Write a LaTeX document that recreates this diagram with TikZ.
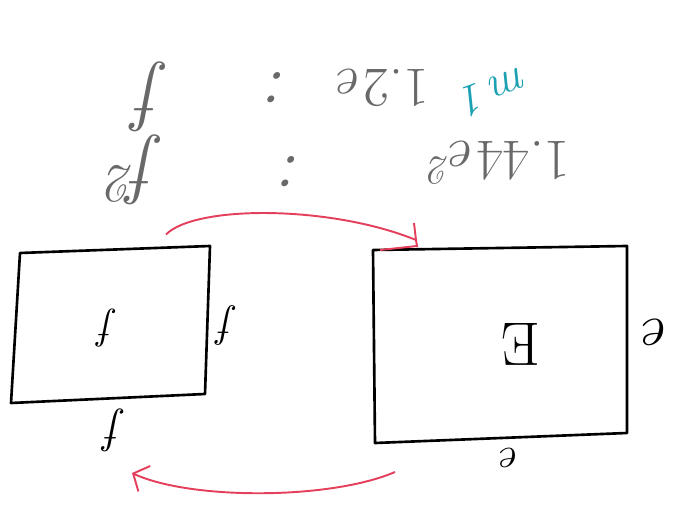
\documentclass[tikz,border=0pt]{standalone}
\usetikzlibrary{arrows.meta,calc}

\definecolor{pencil}{RGB}{105,105,105}
\definecolor{redpen}{RGB}{228,64,92}
\definecolor{bluepen}{RGB}{28,160,178}

\begin{document}
\begin{tikzpicture}[x=0.02cm, y=-0.02cm,
  box/.style={draw, line width=1.5pt, line join=round},
  hand/.style={inner sep=0pt, rotate=180, font=\fontsize{#1}{#1}\selectfont\itshape},
  link/.style={redpen, line width=1.1pt}]
\useasboundingbox (0,0) rectangle (676,506);
% corners of the two boxes
\coordinate (L1) at (20,253);
\coordinate (L2) at (210,246);
\coordinate (L3) at (205,394);
\coordinate (L4) at (11,403);
\coordinate (R1) at (373,250);
\coordinate (R2) at (627,246);
\coordinate (R3) at (627,433);
\coordinate (R4) at (375,443);
\draw[box] (L1) -- (L2) -- (L3) -- (L4) -- cycle;
\draw[box] (R1) -- (R2) -- (R3) -- (R4) -- cycle;
% labels of the boxes
\node[hand=24pt] (lf) at (108,328) {f};
\node[hand=25pt] (lfr) at (228,325) {f};
\node[hand=27pt] (lfb) at (115,430) {f};
\node[hand=35pt] (rE) at (521,344) {\upshape E};
\node[hand=34pt] (rer) at (657,332) {e};
\node[hand=25pt] (reb) at (511,458) {e};
% pencil notes on top
\node[hand=44pt, pencil] (f1) at (152,97) {f};
\node[hand=44pt, pencil] (f2) at (133,170) {f\textsuperscript{2}};
\node[hand=40pt, pencil] (c1) at (278,88) {:};
\node[hand=40pt, pencil] (c2) at (292,172) {:};
\node[hand=32pt, pencil] (v1) at (384,88) {{\upshape 1.2}e};
\node[hand=33pt, pencil] (v2) at (500,163) {{\upshape 1.44}e\textsuperscript{2}};
\node[hand=26pt, rotate=20, bluepen] (m) at (496,92) {m\,1};
% red arrows
\coordinate (k) at (416,240);
\coordinate (back) at (132,473);
\draw[link] ([shift={(51,-15)}]$(L1)!0.5!(L2)$) .. controls (195,205) and (330,205) .. (k)
  -- (417,246) -- ([xshift=4pt]R1);
\draw[link] (k) -- ++(-2,-17);
\draw[link, -{Straight Barb[length=7pt, width=16pt]}] ([shift={(20,29)}]R4)
  .. controls (330,500) and (190,500) .. (back);
\end{tikzpicture}
\end{document}
